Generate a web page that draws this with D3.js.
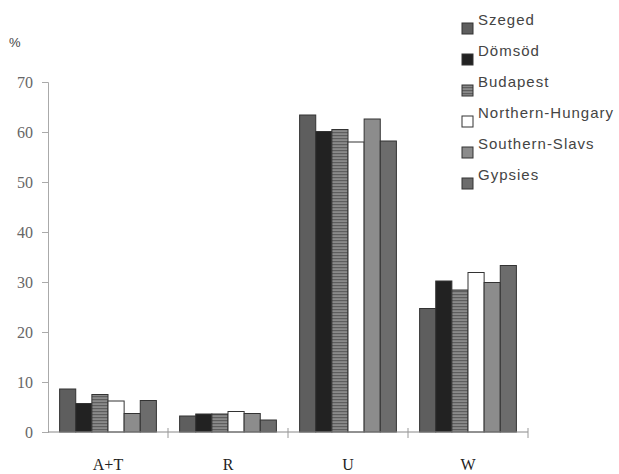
<!DOCTYPE html>
<html><head><meta charset="utf-8">
<script src="https://cdn.jsdelivr.net/npm/d3@7"></script>
<style>body{margin:0;background:#fff}svg{display:block}</style>
</head><body>
<script>
const categories = ["A+T", "R", "U", "W"];
const seriesNames = ["Szeged", "Dömsöd", "Budapest", "Northern-Hungary", "Southern-Slavs", "Gypsies"];
const szeged = [8.6, 3.2, 63.4, 24.7];
const domsod = [5.7, 3.6, 60.1, 30.2];
const budapest = [7.5, 3.6, 60.5, 28.4];
const northernHungary = [6.2, 4.1, 58.0, 31.9];
const southernSlavs = [3.7, 3.7, 62.6, 29.9];
const gypsies = [6.3, 2.4, 58.2, 33.3];
const yTicks = [0, 10, 20, 30, 40, 50, 60, 70];

(function () {
const seriesValues = [szeged, domsod, budapest, northernHungary, southernSlavs, gypsies];
const fills = ["#5e5e5e", "#222", "url(#stripes)", "#fff", "#8c8c8c", "#6c6c6c"];

const W = 619, H = 474;
const svg = d3.select("body").append("svg").attr("width", W).attr("height", H);
const defs = svg.append("defs");
const pat = defs.append("pattern").attr("id", "stripes").attr("patternUnits", "userSpaceOnUse")
  .attr("width", 4).attr("height", 3);
pat.append("rect").attr("width", 4).attr("height", 3).attr("fill", "#8a8a8a");
pat.append("rect").attr("width", 4).attr("height", 1.2).attr("fill", "#5e5e5e");

const mLeft = 48, mRight = 528, mTop = 82, mBottom = 432;
const x = d3.scaleBand().domain(categories).range([mLeft, mRight]).paddingInner(0).paddingOuter(0);
const x1 = d3.scaleBand().domain(seriesNames).range([0, x.bandwidth()]).paddingInner(0).paddingOuter(0.72);
const y = d3.scaleLinear().domain([0, 70]).range([mBottom, mTop]);

categories.forEach((c, ci) => {
  seriesNames.forEach((s, si) => {
    const v = seriesValues[si][ci];
    svg.append("rect")
      .attr("x", x(c) + x1(s))
      .attr("y", y(v))
      .attr("width", x1.bandwidth())
      .attr("height", y(0) - y(v))
      .attr("fill", fills[si])
      .attr("stroke", "#333")
      .attr("stroke-width", 1);
  });
});

const yAxis = svg.append("g").attr("transform", `translate(${mLeft},0)`)
  .call(d3.axisLeft(y).tickValues(yTicks).tickSize(6).tickPadding(9));
yAxis.select(".domain").attr("stroke", "#aaa");
yAxis.selectAll(".tick line").attr("stroke", "#aaa");
yAxis.selectAll("text").attr("font-family", "Liberation Serif, Times New Roman, serif")
  .attr("font-size", 16).attr("fill", "#666");

const xg = svg.append("g").attr("transform", `translate(0,${mBottom})`);
xg.append("line").attr("x1", mLeft).attr("x2", mRight).attr("stroke", "#888");
const bounds = categories.map(c => x(c) + x.bandwidth());
xg.selectAll("line.tk").data(bounds).enter().append("line").attr("class", "tk")
  .attr("x1", d => d).attr("x2", d => d).attr("y1", -4).attr("y2", 6).attr("stroke", "#999");
xg.selectAll("text").data(categories).enter().append("text")
  .attr("x", d => x(d) + x.bandwidth() / 2).attr("y", 38)
  .attr("text-anchor", "middle")
  .attr("font-family", "Liberation Serif, Times New Roman, serif")
  .attr("font-size", 16).attr("fill", "#222").text(d => d);

svg.append("text").attr("x", 9).attr("y", 47).attr("font-family", "Liberation Sans, Arial, sans-serif")
  .attr("font-size", 13).attr("fill", "#444").text("%");

const lg = svg.append("g");
seriesNames.forEach((s, i) => {
  const yy = 19 + i * 31;
  lg.append("rect").attr("x", 462).attr("y", yy + 4).attr("width", 11).attr("height", 11)
    .attr("fill", fills[i]).attr("stroke", "#333").attr("stroke-width", 1);
  lg.append("text").attr("x", 478).attr("y", yy + 6).attr("font-family", "Liberation Sans, Arial, sans-serif")
    .attr("font-size", 15).attr("letter-spacing", 1).attr("fill", "#444").text(s);
});
})();
</script>
</body></html>
